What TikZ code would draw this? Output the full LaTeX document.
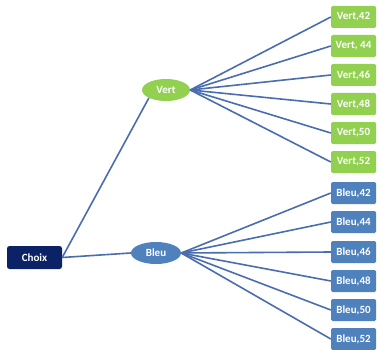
\documentclass[tikz,border=0pt]{standalone}
\usepackage{fontspec}
\setmainfont{Carlito}
\usetikzlibrary{shapes.geometric}
\definecolor{navy}{HTML}{0B2366}
\definecolor{leafgreen}{HTML}{92D050}
\definecolor{leafblue}{HTML}{4F81BD}
\definecolor{linkblue}{HTML}{4A6DB0}
\tikzset{
  txt/.style={text=white, font=\bfseries\fontsize{11}{13}\selectfont},
  rootbox/.style={txt, fill=navy, rounded corners=2.5pt, minimum width=55pt, minimum height=23pt, inner sep=0pt},
  greenoval/.style={txt, ellipse, fill=leafgreen, minimum width=48pt, minimum height=22pt, inner sep=0pt},
  blueoval/.style={txt, ellipse, fill=leafblue, minimum width=50pt, minimum height=22pt, inner sep=0pt},
  greenbox/.style={txt, fill=leafgreen, rounded corners=1.5pt, minimum width=45pt, minimum height=22pt, inner sep=0pt},
  bluebox/.style={txt, fill=leafblue, rounded corners=1.5pt, minimum width=45pt, minimum height=22pt, inner sep=0pt},
  link/.style={draw=linkblue, line width=1.6pt}
}
\begin{document}
\begin{tikzpicture}[x=1pt, y=-1pt]
\useasboundingbox[fill=white] (0,0) rectangle (377,350);

% root and first level
\node[rootbox] (choix) at (34.5,257.5) {Choix};
\node[greenoval] (vert) at (166,90) {Vert};
\node[blueoval] (bleu) at (156,253) {Bleu};

% leaves
\node[greenbox] (v42) at (353.5,17) {Vert,42};
\node[greenbox] (v44) at (353.5,46) {Vert, 44};
\node[greenbox] (v46) at (353.5,75) {Vert,46};
\node[greenbox] (v48) at (353.5,104) {Vert,48};
\node[greenbox] (v50) at (353.5,133) {Vert,50};
\node[greenbox] (v52) at (353.5,162) {Vert,52};

\node[bluebox] (b42) at (353.5,193) {Bleu,42};
\node[bluebox] (b44) at (353.5,222) {Bleu,44};
\node[bluebox] (b46) at (353.5,252) {Bleu,46};
\node[bluebox] (b48) at (353.5,281) {Bleu,48};
\node[bluebox] (b50) at (353.5,310) {Bleu,50};
\node[bluebox] (b52) at (353.5,339) {Bleu,52};

% connectors
\draw[link] (choix.east) -- (vert.south west);
\draw[link] (choix.east) -- (bleu.west);
\foreach \n in {v42,v44,v46,v48,v50,v52}
  \draw[link] (vert.east) -- (\n.west);
\foreach \n in {b42,b44,b46,b48,b50,b52}
  \draw[link] (bleu.east) -- (\n.west);
\end{tikzpicture}
\end{document}
